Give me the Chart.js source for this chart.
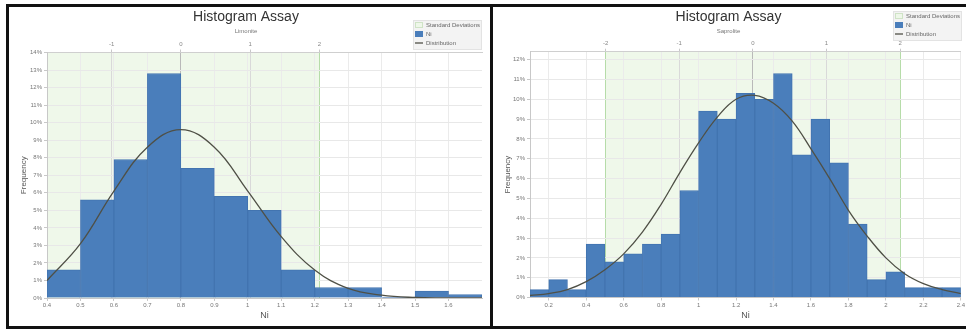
<!DOCTYPE html>
<html>
<head>
<meta charset="utf-8">
<title>Histogram Assay</title>
<script src="https://cdn.jsdelivr.net/npm/chart.js@4.4.1/dist/chart.umd.min.js"></script>
<style>
  html, body { margin: 0; padding: 0; background: #fff; }
  body { width: 966px; height: 329px; position: relative; overflow: hidden; }
  .frame { position: absolute; top: 4px; height: 325px; box-sizing: border-box; border: 3px solid #111; background: #fff; }
  #frameLimonite { left: 6px; width: 487px; }
  #frameSaprolite { left: 490px; width: 490px; }
  canvas { position: absolute; top: 8px; }
  #chartLimonite { left: 10px; }
  #chartSaprolite { left: 494px; }
</style>
</head>
<body>
<div class="frame" id="frameLimonite"></div>
<div class="frame" id="frameSaprolite"></div>
<canvas id="chartLimonite" width="478" height="318"></canvas>
<canvas id="chartSaprolite" width="472" height="318"></canvas>

<script>
// bin width used by both assay histograms (Ni %)
const binWidth = 0.1;
const sigmaSteps = [-2, -1, 0, 1, 2];

// Limonite zone
const limBinStarts = [0.4, 0.5, 0.6, 0.7, 0.8, 0.9, 1.0, 1.1, 1.2, 1.3, 1.4, 1.5, 1.6];
const limFrequency = [1.6, 5.6, 7.9, 12.8, 7.4, 5.8, 5.0, 1.6, 0.6, 0.6, 0.05, 0.4, 0.2];
const limCurveNi = [0.4, 0.5, 0.6, 0.7, 0.8, 0.9, 1.0, 1.1, 1.2, 1.3, 1.4, 1.5, 1.6, 1.7];
const limCurvePct = [1.0, 3.1, 6.1, 8.6, 9.6, 8.6, 6.1, 3.5, 1.6, 0.55, 0.16, 0.03, 0.01, 0];
const limNiTicks = [0.4, 0.5, 0.6, 0.7, 0.8, 0.9, 1.0, 1.1, 1.2, 1.3, 1.4, 1.5, 1.6];
const limMean = 0.80;
const limSd = 0.207;
const limPctMax = 14;

// Saprolite zone
const sapBinStarts = [0.1, 0.2, 0.3, 0.4, 0.5, 0.6, 0.7, 0.8, 0.9, 1.0, 1.1, 1.2,
                      1.3, 1.4, 1.5, 1.6, 1.7, 1.8, 1.9, 2.0, 2.1, 2.2, 2.3];
const sapFrequency = [0.4, 0.9, 0.4, 2.7, 1.8, 2.2, 2.7, 3.2, 5.4, 9.4, 9.0, 10.3,
                      10.0, 11.3, 7.2, 9.0, 6.8, 3.7, 0.9, 1.3, 0.5, 0.5, 0.5];
const sapCurveNi = [0.1, 0.2, 0.3, 0.4, 0.5, 0.6, 0.7, 0.8, 0.9, 1.0, 1.1, 1.2,
                    1.3, 1.4, 1.5, 1.6, 1.7, 1.8, 1.9, 2.0, 2.1, 2.2, 2.3, 2.4];
const sapCurvePct = [0.1, 0.2, 0.4, 0.8, 1.4, 2.2, 3.3, 4.7, 6.3, 7.8, 9.1, 10.0,
                     10.2, 9.8, 8.9, 7.5, 6.0, 4.4, 3.1, 2.0, 1.2, 0.7, 0.4, 0.2];
const sapNiTicks = [0.2, 0.4, 0.6, 0.8, 1.0, 1.2, 1.4, 1.6, 1.8, 2.0, 2.2, 2.4];
const sapMean = 1.29;
const sapSd = 0.393;
const sapPctMax = 12.4;

const fontFamily = '"Liberation Sans", Arial, sans-serif';

// light green band between -2 and +2 standard deviations
const sigmaBandPlugin = {
  id: 'sigmaBand',
  beforeDraw(chart, args, opts) {
    const { ctx, chartArea: a, scales: { x } } = chart;
    const lo = Math.max(a.left, x.getPixelForValue(opts.mean - 2 * opts.sd));
    const hi = Math.min(a.right, x.getPixelForValue(opts.mean + 2 * opts.sd));
    ctx.save();
    ctx.fillStyle = opts.color;
    ctx.fillRect(lo, a.top, hi - lo, a.bottom - a.top);
    ctx.restore();
  }
};

// small boxed legend in the top right corner
const legendBoxPlugin = {
  id: 'legendBox',
  afterDraw(chart, args, opts) {
    const { ctx } = chart;
    const { x, y, w } = opts;
    const h = 30;
    ctx.save();
    ctx.fillStyle = '#f3f3f3';
    ctx.fillRect(x, y, w, h);
    ctx.strokeStyle = '#e3e3e3';
    ctx.lineWidth = 1;
    ctx.strokeRect(x + 0.5, y + 0.5, w - 1, h - 1);

    ctx.font = '6px ' + fontFamily;
    ctx.textBaseline = 'middle';
    const rows = [y + 5, y + 14, y + 23];
    const sx = x + 2;

    // band swatch
    ctx.fillStyle = '#eef7e9';
    ctx.fillRect(sx, rows[0] - 3, 8, 6);
    ctx.strokeStyle = '#cfe3c6';
    ctx.strokeRect(sx + 0.5, rows[0] - 2.5, 7, 5);
    // bar swatch
    ctx.fillStyle = '#4a7ebb';
    ctx.fillRect(sx, rows[1] - 3, 8, 6);
    // line swatch
    ctx.strokeStyle = '#4f5046';
    ctx.lineWidth = 1.3;
    ctx.beginPath();
    ctx.moveTo(sx, rows[2]);
    ctx.lineTo(sx + 8, rows[2]);
    ctx.stroke();

    ctx.fillStyle = '#666';
    opts.labels.forEach((t, i) => ctx.fillText(t, sx + 11, rows[i]));
    ctx.restore();
  }
};

function makeHistogram(canvasId, opt) {
  const bars = opt.binStarts.map((s, i) => ({ x: s + binWidth / 2, y: opt.freq[i] }));
  const curve = opt.curveNi.map((v, i) => ({ x: v, y: opt.curvePct[i] }));
  const xMin = opt.binStarts[0];
  const xMax = opt.binStarts[opt.binStarts.length - 1] + binWidth;
  const sigmaValues = sigmaSteps
    .map(k => opt.mean + k * opt.sd)
    .filter(v => v >= xMin && v <= xMax);
  const sigmaOf = v => Math.round((v - opt.mean) / opt.sd);
  const tickFont = { family: fontFamily, size: 6 };

  return new Chart(document.getElementById(canvasId), {
    type: 'bar',
    data: {
      datasets: [
        {
          type: 'line',
          label: 'Distribution',
          data: curve,
          borderColor: '#4f5046',
          borderWidth: 1.3,
          pointRadius: 0,
          tension: 0.4,
          order: 0
        },
        {
          type: 'bar',
          label: 'Ni',
          data: bars,
          backgroundColor: '#4a7ebb',
          borderColor: '#4274b0',
          borderWidth: 1,
          borderSkipped: 'bottom',
          barPercentage: 1,
          categoryPercentage: 1,
          order: 1
        }
      ]
    },
    options: {
      responsive: false,
      animation: false,
      layout: { padding: { left: 0, right: opt.padRight, top: 0, bottom: 0 } },
      plugins: {
        legend: { display: false },
        tooltip: { enabled: false },
        title: {
          display: true,
          text: 'Histogram Assay',
          color: '#333',
          font: { family: fontFamily, size: 14, weight: 'normal' },
          padding: { top: 1, bottom: 1 }
        },
        subtitle: {
          display: true,
          text: opt.zone,
          color: '#777',
          font: { family: fontFamily, size: 6 },
          padding: { top: 1, bottom: 0 }
        },
        sigmaBand: { mean: opt.mean, sd: opt.sd, color: '#eff8ea' },
        legendBox: { x: opt.legendX, y: opt.legendY, w: 69, labels: ['Standard Deviations', 'Ni', 'Distribution'] }
      },
      scales: {
        x: {
          type: 'linear',
          min: xMin,
          max: xMax,
          offset: false,
          afterBuildTicks: s => { s.ticks = opt.niTicks.map(v => ({ value: v })); },
          afterFit: s => { s.height = opt.bottomH; },
          grid: { color: '#ebebeb', tickLength: 3, tickColor: '#c8c8c8', offset: false },
          border: { color: '#c8c8c8' },
          ticks: {
            autoSkip: false,
            maxRotation: 0,
            padding: 1,
            color: '#777',
            font: tickFont,
            callback: v => String(Number(v.toFixed(1)))
          },
          title: {
            display: true,
            text: 'Ni',
            color: '#555',
            font: { family: fontFamily, size: 9 },
            padding: { top: 0, bottom: 5.5 }
          }
        },
        x2: {
          type: 'linear',
          position: 'top',
          min: xMin,
          max: xMax,
          offset: false,
          afterBuildTicks: s => { s.ticks = sigmaValues.map(v => ({ value: v })); },
          afterFit: s => { s.height = opt.topH; },
          grid: {
            offset: false,
            tickLength: 3,
            tickColor: '#c8c8c8',
            color: c => {
              if (!c.tick) return '#d9d9d9';
              const k = Math.abs(sigmaOf(c.tick.value));
              if (k === 2) return '#b6dca9';
              if (k === 0) return '#b9b9b9';
              return '#d9d9d9';
            }
          },
          border: { color: '#cfcfcf' },
          ticks: {
            autoSkip: false,
            maxRotation: 0,
            padding: 2,
            color: '#888',
            font: tickFont,
            callback: v => String(sigmaOf(v))
          }
        },
        y: {
          min: 0,
          max: opt.pctMax,
          afterFit: s => { s.width = opt.yW; },
          grid: { color: '#e8e8e8', tickLength: 3, tickColor: '#c8c8c8' },
          border: { color: '#c8c8c8' },
          ticks: {
            stepSize: 1,
            includeBounds: false,
            padding: 2,
            color: '#777',
            font: tickFont,
            callback: v => v + '%'
          },
          title: {
            display: true,
            text: 'Frequency',
            color: '#555',
            font: { family: fontFamily, size: 8 },
            padding: { top: 9, bottom: 0 }
          }
        }
      }
    },
    plugins: [sigmaBandPlugin, legendBoxPlugin]
  });
}

makeHistogram('chartLimonite', {
  zone: 'Limonite',
  binStarts: limBinStarts,
  freq: limFrequency,
  curveNi: limCurveNi,
  curvePct: limCurvePct,
  niTicks: limNiTicks,
  mean: limMean,
  sd: limSd,
  pctMax: limPctMax,
  yW: 37,
  topH: 17.5,
  bottomH: 28,
  padRight: 6,
  legendX: 403,
  legendY: 12
});

makeHistogram('chartSaprolite', {
  zone: 'Saprolite',
  binStarts: sapBinStarts,
  freq: sapFrequency,
  curveNi: sapCurveNi,
  curvePct: sapCurvePct,
  niTicks: sapNiTicks,
  mean: sapMean,
  sd: sapSd,
  pctMax: sapPctMax,
  yW: 36,
  topH: 16.7,
  bottomH: 28.5,
  padRight: 3,
  legendX: 399,
  legendY: 3
});
</script>
</body>
</html>
